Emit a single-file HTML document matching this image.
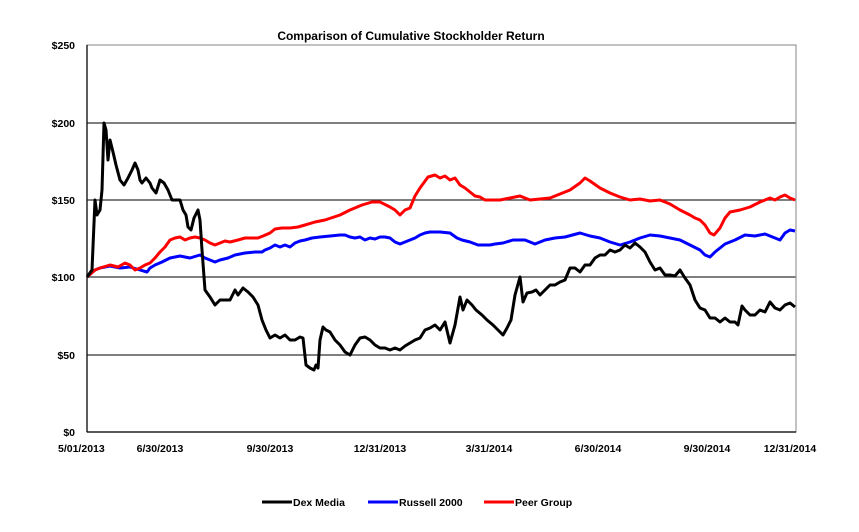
<!DOCTYPE html>
<html><head><meta charset="utf-8"><style>
html,body{margin:0;padding:0;background:#fff;}
svg{display:block;font-family:"Liberation Sans",Arial,sans-serif;}
</style></head><body>
<svg width="859" height="532" viewBox="0 0 859 532" xmlns="http://www.w3.org/2000/svg">
<rect width="859" height="532" fill="#fff"/>
<text x="411" y="40" text-anchor="middle" font-size="12" font-weight="bold">Comparison of Cumulative Stockholder Return</text>
<g stroke="#333" stroke-width="1.3">
<line x1="87" y1="123" x2="796" y2="123"/>
<line x1="87" y1="200" x2="796" y2="200"/>
<line x1="87" y1="277" x2="796" y2="277"/>
<line x1="87" y1="355" x2="796" y2="355"/>
</g>
<rect x="87" y="45" width="709" height="387" fill="none" stroke="#999" stroke-width="1.2"/>
<line x1="87" y1="45" x2="87" y2="432" stroke="#000" stroke-width="1.2"/>
<line x1="87" y1="432" x2="796" y2="432" stroke="#000" stroke-width="1.2"/>
<g font-size="10.5" font-weight="bold" text-anchor="end">
<text x="75" y="49">$250</text><text x="75" y="127">$200</text><text x="75" y="204">$150</text><text x="75" y="281">$100</text><text x="75" y="359">$50</text><text x="75" y="436">$0</text>
</g>
<g font-size="10.5" font-weight="bold" text-anchor="middle">
<text x="58" y="452" text-anchor="start">5/01/2013</text><text x="160" y="452">6/30/2013</text><text x="270" y="452">9/30/2013</text><text x="380" y="452">12/31/2013</text><text x="489" y="452">3/31/2014</text><text x="598" y="452">6/30/2014</text><text x="707" y="452">9/30/2014</text><text x="790" y="452">12/31/2014</text>
</g>
<g fill="none" stroke-width="3" stroke-linejoin="round">
<polyline stroke="#00f" points="87,277 95,270 100,268 110,266 120,268 130,267 140,270 147,272 150,268 155,265 162,262 170,258 180,256 190,258 200,255 205,258 210,260 215,262 220,260 228,258 235,255 245,253 255,252 262,252 265,250 270,248 275,245 280,247 285,245 290,247 295,243 300,241 305,240 312,238 320,237 330,236 340,235 345,235 350,237 355,238 360,237 365,240 370,238 375,239 380,237 385,237 390,238 395,242 400,244 405,242 410,240 415,238 420,235 425,233 430,232 440,232 450,233 457,238 462,240 470,242 478,245 485,245 490,245 495,244 503,243 513,240 525,240 535,244 545,240 555,238 565,237 580,233 590,236 600,238 610,242 620,245 630,242 640,238 650,235 660,236 670,238 680,240 690,245 700,250 705,255 710,257 715,252 720,248 725,244 735,240 745,235 755,236 765,234 775,238 780,240 785,233 790,230 795,231"/>
<polyline stroke="#f00" points="87,277 95,270 100,268 110,265 118,267 125,263 130,265 135,270 140,268 145,265 150,263 155,258 160,252 165,247 170,240 175,238 180,237 185,240 190,238 195,237 200,238 205,240 210,243 215,245 220,243 225,241 230,242 238,240 245,238 252,238 258,238 263,236 270,233 275,229 282,228 290,228 298,227 305,225 315,222 325,220 340,215 350,210 362,205 372,202 380,202 390,207 395,210 400,215 405,210 410,208 415,196 420,188 428,177 435,175 440,178 445,176 450,180 455,178 460,185 465,188 470,192 475,196 480,197 485,200 490,200 500,200 510,198 520,196 530,200 540,199 550,198 560,194 570,190 580,183 585,178 590,181 600,188 610,193 620,197 630,200 640,199 650,201 660,200 670,204 680,210 690,215 695,218 700,220 705,225 710,233 714,235 720,228 725,218 730,212 740,210 750,207 760,202 770,198 775,200 780,197 785,195 790,198 795,200"/>
<polyline stroke="#000" points="87,277 92,270 95,200 97,215 100,210 102,190 104,123 106,130 108,160 110,140 113,152 116,165 120,180 124,185 128,178 132,170 135,163 138,170 140,180 142,183 146,178 150,183 152,188 156,193 160,180 164,183 168,190 172,200 175,200 180,200 183,210 186,215 188,227 191,230 194,218 198,210 200,220 202,250 205,290 210,297 215,305 220,300 225,300 230,300 235,290 238,295 243,288 248,292 253,297 258,305 262,320 266,330 270,338 275,335 280,338 285,335 290,340 295,340 300,337 303,338 306,365 310,368 314,370 316,365 318,368 320,340 323,327 326,330 330,332 335,340 340,345 345,352 350,355 355,345 360,338 365,337 370,340 375,345 380,348 385,348 390,350 395,348 400,350 405,346 410,343 415,340 420,338 425,330 430,328 435,325 440,330 445,322 450,343 455,325 460,297 463,310 467,300 472,305 476,310 482,315 487,320 493,325 498,330 503,335 507,328 511,320 515,295 520,277 523,302 527,293 532,292 536,290 540,295 545,290 550,285 555,285 560,282 565,280 570,268 575,268 580,272 585,265 590,265 595,258 600,255 605,255 610,250 615,252 620,250 625,245 630,248 635,243 640,247 645,252 650,262 655,270 660,268 665,275 670,275 675,276 680,270 685,278 690,285 695,300 700,308 705,310 710,318 715,318 720,322 725,318 730,322 735,322 738,325 742,306 745,310 750,315 755,315 760,310 765,312 770,302 775,308 780,310 785,305 790,303 795,307"/>
</g>
<g font-size="10.5" font-weight="bold">
<line x1="262" y1="502" x2="292" y2="502" stroke="#000" stroke-width="3"/><text x="293" y="506">Dex Media</text>
<line x1="368" y1="502" x2="398" y2="502" stroke="#00f" stroke-width="3"/><text x="399" y="506">Russell 2000</text>
<line x1="484" y1="502" x2="514" y2="502" stroke="#f00" stroke-width="3"/><text x="515" y="506">Peer Group</text>
</g>
</svg>
</body></html>
